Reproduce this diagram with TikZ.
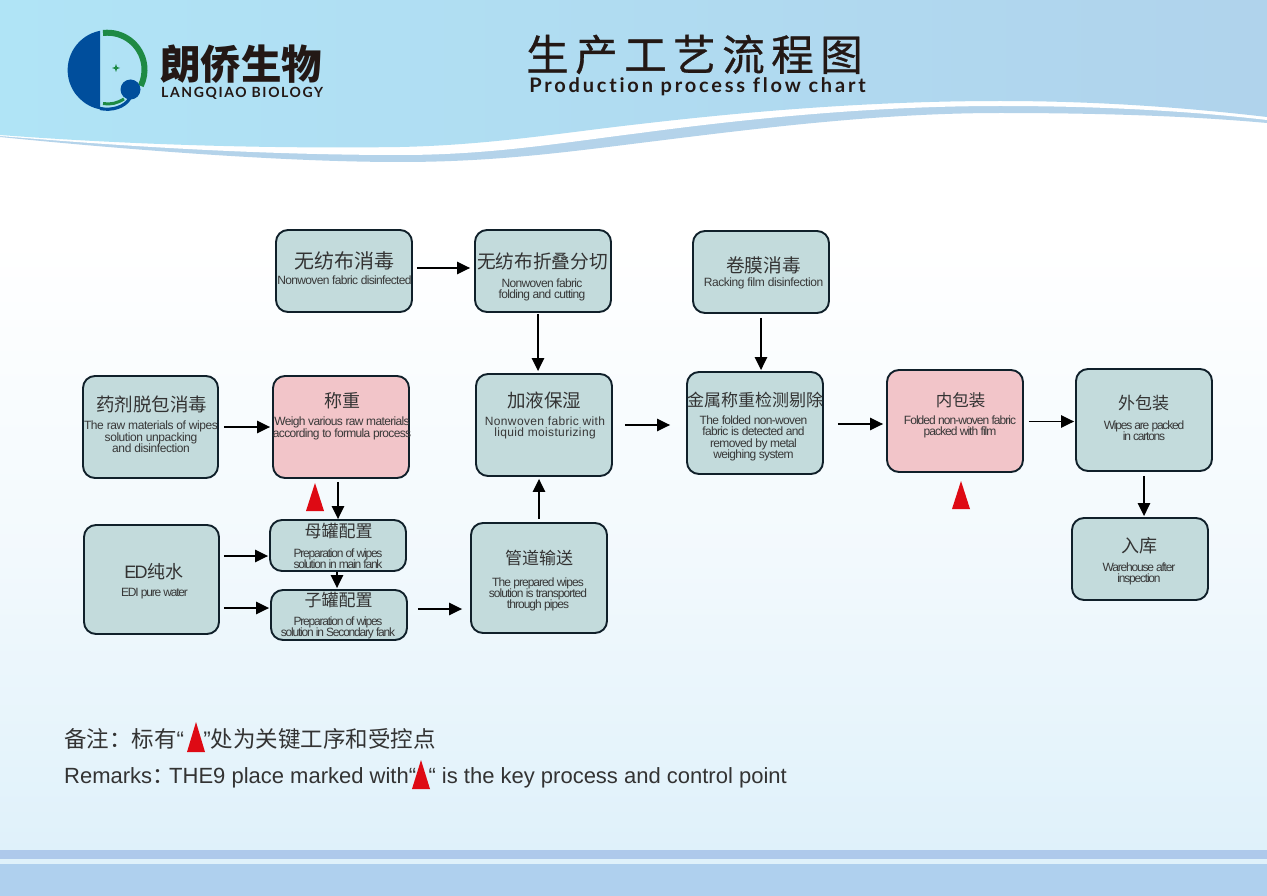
\documentclass[tikz,border=0pt]{standalone}
\usepackage{fontspec}
\setmainfont{Liberation Sans}
\newfontfamily\cjk{Noto Sans CJK SC}
\newfontfamily\cjkmed{Noto Sans CJK SC}[FakeBold=0.7]
\newfontfamily\enC{Liberation Sans}[LetterSpace=-10]
\newfontfamily\enB{Liberation Sans}[LetterSpace=-8]
\newfontfamily\enA{Liberation Sans}[LetterSpace=-5.5]
\newfontfamily\enD{Liberation Sans}[LetterSpace=-3.5]
\newfontfamily\enE{Liberation Sans}[LetterSpace=3]
\newfontfamily\ensp{Lato}[LetterSpace=14,Ligatures=NoCommon]
\newfontfamily\enlogo{Lato}[LetterSpace=11.5,Ligatures=NoCommon]
\usetikzlibrary{arrows.meta,calc}
\definecolor{boxfill}{HTML}{C3DBDC}
\definecolor{boxpink}{HTML}{F2C5C9}
\definecolor{inkline}{HTML}{10202A}
\definecolor{alarm}{HTML}{DE0A14}
\definecolor{logoblue}{HTML}{004E9C}
\definecolor{logogreen}{HTML}{1E8A44}
\definecolor{inktext}{HTML}{231815}
\definecolor{bga}{HTML}{F2F9FD}
\definecolor{bgb}{HTML}{DFF1FA}
\definecolor{topa}{HTML}{B0E4F6}
\definecolor{topm}{HTML}{B0DDF2}
\definecolor{topb}{HTML}{B0D3EC}
\definecolor{swoosh}{HTML}{B4D3EA}
\definecolor{bandc}{HTML}{AEC9EB}
\definecolor{bandd}{HTML}{AFD0EE}
\tikzset{
  flow/.style={draw=inkline,line width=1.9pt,rounded corners=12pt,fill=boxfill,inner sep=0pt},
  pink/.style={flow,fill=boxpink},
  cnt/.style={font=\fontsize{#1}{20}\selectfont\cjk,text=black!80,inner sep=0pt},
  cnt/.default=18,
  ent/.style={font=\fontsize{12}{11.3}\selectfont#1,text=black!78,align=center,inner sep=0pt},
  link/.style={-{Triangle[length=13pt,width=12.5pt]},line width=1.4pt,black}
}
\newcommand{\flowbox}[6][flow]{% style name x1 x2 y1 y2
  \node[#1,minimum width=#4pt-#3pt,minimum height=#6pt-#5pt] (#2) at ({(#3+#4)/2},{(#5+#6)/2}) {};
}
\newcommand{\redtri}[4]{\fill[alarm] (#1,#2) -- (#3,#4) -- ({2*#1-#3},#4) -- cycle;}
\begin{document}
\begin{tikzpicture}[x=1pt,y=-1pt]
\useasboundingbox (0,0) rectangle (1267,896);
% background
\fill[white] (0,0) rectangle (1267,896);
\shade[top color=white,bottom color=bga] (0,240) rectangle (1267,560);
\shade[top color=bga,bottom color=bgb] (0,560) rectangle (1267,850);
% lower blue-grey swoosh
\fill[swoosh] (0,137) .. controls (120,149) and (280,162) .. (400,162)
  .. controls (490,162) and (560,153) .. (640,143)
  .. controls (760,128) and (880,113) .. (1000,113)
  .. controls (1100,113) and (1190,116) .. (1267,123)
  -- (1267,90) -- (0,90) -- cycle;
% white swoosh
\fill[white] (0,136) .. controls (120,146) and (260,155) .. (400,155)
  .. controls (490,155) and (560,143) .. (640,133)
  .. controls (760,117) and (880,106) .. (1000,106)
  .. controls (1100,106) and (1190,111) .. (1267,120)
  -- (1267,90) -- (0,90) -- cycle;
% top band
\shade[left color=topa,middle color=topm,right color=topb] (0,0) -- (1267,0) -- (1267,117)
  .. controls (1190,108) and (1100,101) .. (1000,101)
  .. controls (880,101) and (760,110) .. (640,124)
  .. controls (560,133) and (490,145) .. (400,147)
  .. controls (260,149) and (120,144) .. (0,135) -- cycle;
% bottom bands
\fill[bgb] (0,850) rectangle (1267,896);
\fill[bandc] (0,850) rectangle (1267,859);
\fill[bandd] (0,864) rectangle (1267,896);
% logo
\fill[logoblue] (100,30.8) arc[start angle=-101,end angle=-259,radius=40] -- cycle;
\draw[logogreen,line width=6pt] (103,33) arc[start angle=-97,end angle=26,radius=37];
\draw[logoblue,line width=3.2pt] (100,108.5) .. controls (112,111) and (125,107) .. (130,98);
\draw[logogreen,line width=3pt] (103,103.5) .. controls (110,105) and (118,103) .. (124,99);
\fill[logoblue] (130.5,89.5) circle[radius=10];
\fill[logogreen] (116,64) .. controls (116.5,67) and (117,67.5) .. (120,68) .. controls (117,68.5) and (116.5,69) .. (116,72) .. controls (115.5,69) and (115,68.5) .. (112,68) .. controls (115,67.5) and (115.5,67) .. (116,64) -- cycle;
\node[anchor=west,inner sep=0pt,text=inktext,font=\fontsize{40.5}{42}\selectfont\cjk\bfseries] (brandcn) at (160,64.5) {朗侨生物};
\node[anchor=west,inner sep=0pt,text=inktext,font=\fontsize{14}{15}\selectfont\enlogo\bfseries] (branden) at (161,93) {LANGQIAO BIOLOGY};
% title
\node[inner sep=0pt,text=inktext,font=\fontsize{42.5}{44}\selectfont\cjkmed] (title) at (694.5,54.5) {生\hspace{6.5pt}产\hspace{6.5pt}工\hspace{6.5pt}艺\hspace{6.5pt}流\hspace{6.5pt}程\hspace{6.5pt}图};
\node[inner sep=0pt,text=inktext,font=\fontsize{20}{21}\selectfont\ensp\bfseries] (subtitle) at (697.5,87) {Production process flow chart};
% boxes
\flowbox{nfd}{276}{412}{230}{312}
\flowbox{nff}{475}{611}{230}{312}
\flowbox{rfd}{693}{829}{231}{313}
\flowbox{raw}{83}{218}{376}{478}
\flowbox[pink]{wgh}{273}{409}{376}{478}
\flowbox{liq}{476}{612}{374}{476}
\flowbox{mtl}{687}{823}{372}{474}
\flowbox[pink]{inn}{887}{1023}{370}{472}
\flowbox{out}{1076}{1212}{369}{471}
\flowbox{sto}{1072}{1208}{518}{600}
\flowbox{edi}{84}{219}{525}{634}
\flowbox{mtk}{270}{406}{520}{571}
\flowbox{stk}{271}{407}{590}{640}
\flowbox{pip}{471}{607}{523}{633}
% texts
\node[cnt=20] at (344.5,261) {无纺布消毒};
\node[ent=\enA] at (344.5,280) {Nonwoven fabric disinfected};
\node[cnt=18.7] at (542.5,261) {无纺布折叠分切};
\node[ent=\enA] at (542,290) {Nonwoven fabric\\folding and cutting};
\node[cnt=18.7] at (763.5,265) {卷膜消毒};
\node[ent=\enD] at (763.5,283.5) {Racking film disinfection};
\node[cnt=18.5] at (151.5,404) {药剂脱包消毒};
\node[ent=\enD] at (151,437) {The raw materials of wipes\\solution unpacking\\and disinfection};
\node[cnt] at (342,401) {称重};
\node[ent=\enA] at (342,428.5) {Weigh various raw materials\\according to formula process};
\node[cnt=18.5] at (544,400) {加液保湿};
\node[ent=\enE] at (545,428) {Nonwoven fabric with\\liquid moisturizing};
\node[cnt=17] at (755,400) {金属称重检测剔除};
\node[ent=\enA] at (753.5,438.5) {The folded non-woven\\fabric is detected and\\removed by metal\\weighing system};
\node[cnt=16.5] at (960.5,400) {内包装};
\node[ent=\enB] at (960,427) {Folded non-woven fabric\\packed with film};
\node[cnt=17] at (1143.5,403) {外包装};
\node[ent=\enC] at (1144,431) {Wipes are packed\\in cartons};
\node[cnt] at (1139,546) {入库};
\node[ent=\enC] at (1139,574) {Warehouse after\\inspection};
\node[cnt=18] at (154,572) {{\enC ED}纯水};
\node[ent=\enC] at (154.5,594) {EDI pure water};
\node[cnt=17] at (338.5,531) {母罐配置};
\node[ent=\enC] at (338,558.5) {Preparation of wipes\\solution in main fank};
\node[cnt=17] at (338.5,600) {子罐配置};
\node[ent=\enC] at (338,628) {Preparation of wipes\\solution in Secondary  fank};
\node[cnt=17] at (539,558) {管道输送};
\node[ent=\enB] at (538,594.5) {The prepared wipes\\solution is transported\\through pipes};
% arrows
\coordinate (g1) at (0,268);
\draw[link,shorten <=4pt,shorten >=4pt] (nfd.east |- g1) -- (nff.west |- g1);
\coordinate (g2) at (538,0);
\draw[link,shorten <=1pt,shorten >=2pt] (nff.south -| g2) -- (liq.north -| g2);
\coordinate (g3) at (761,0);
\draw[link,shorten <=4pt,shorten >=1pt] (rfd.south -| g3) -- (mtl.north -| g3);
\coordinate (g4) at (0,427);
\draw[link,shorten <=5pt,shorten >=2pt] (raw.east |- g4) -- (wgh.west |- g4);
\coordinate (g5) at (338,0);
\draw[link,shorten <=3pt,shorten >=0pt] (wgh.south -| g5) -- (mtk.north -| g5);
\coordinate (g6) at (0,425);
\draw[link,shorten <=12pt,shorten >=16pt] (liq.east |- g6) -- (mtl.west |- g6);
\coordinate (g7) at (0,424);
\draw[link,shorten <=14pt,shorten >=3pt] (mtl.east |- g7) -- (inn.west |- g7);
\coordinate (g8) at (0,421.5);
\draw[link,shorten <=5pt,shorten >=1pt] (inn.east |- g8) -- (out.west |- g8);
\coordinate (g9) at (1144,0);
\draw[link,shorten <=4pt,shorten >=1pt] (out.south -| g9) -- (sto.north -| g9);
\coordinate (g10) at (539,0);
\draw[link,shorten <=3pt,shorten >=2pt] (pip.north -| g10) -- (liq.south -| g10);
\coordinate (g11) at (0,556);
\draw[link,shorten <=4pt,shorten >=1pt] (edi.east |- g11) -- (mtk.west |- g11);
\coordinate (g12) at (0,608);
\draw[link,shorten <=4pt,shorten >=1pt] (edi.east |- g12) -- (stk.west |- g12);
\coordinate (g13) at (337,0);
\draw[link,shorten <=0pt,shorten >=1pt] (mtk.south -| g13) -- (stk.north -| g13);
\coordinate (g14) at (0,609);
\draw[link,shorten <=10pt,shorten >=8pt] (stk.east |- g14) -- (pip.west |- g14);
% key marks
\redtri{315}{483}{306}{511}
\redtri{961}{481}{952}{509}
\redtri{196}{722}{187}{752}
\redtri{421}{760}{412}{789}
% remarks
\node[anchor=west,inner sep=0pt,text=black!80,font=\fontsize{22.5}{24}\selectfont\cjk] (remcna) at (64,739) {备注：标有{\rmfamily “}};
\node[anchor=east,inner sep=0pt,text=black!80,font=\fontsize{22.5}{24}\selectfont\cjk] (remcnb) at (436,739) {{\rmfamily ”}处为关键工序和受控点};
\node[anchor=west,inner sep=0pt,text=black!80,font=\fontsize{22}{24}\selectfont] (remena) at (64,778) {Remarks{\cjk ：}\hspace{-5pt}THE9 place marked with“};
\node[anchor=east,inner sep=0pt,text=black!80,font=\fontsize{22}{24}\selectfont] (remenb) at (787,778) {“ is the key process and control point};
\end{tikzpicture}
\end{document}
